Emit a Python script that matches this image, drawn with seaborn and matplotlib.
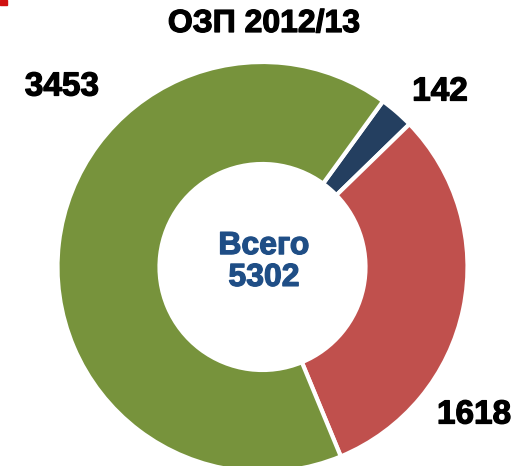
import matplotlib
matplotlib.use("Agg")
import matplotlib.pyplot as plt
import matplotlib.patches as mpatches
import matplotlib.patheffects as pe
import seaborn as sns

# data
categories = ["Группа 1", "Группа 2", "Группа 3"]
values = [142, 1618, 3453]
value_labels = ["142", "1618", "3453"]
colors = ["#243F60", "#C0504D", "#77933C"]
title = "ОЗП 2012/13"
center_text = "Всего\n5302"

sns.set_theme(style="white")
plt.rcParams["font.family"] = ["Liberation Sans", "DejaVu Sans"]

fig = plt.figure(figsize=(5.19, 4.66), dpi=100)
ax = fig.add_axes([0, 0, 1, 1])
ax.axis("off")

wedges, _ = ax.pie(values, colors=colors, startangle=54, counterclock=False,
                   center=(262.5, 199), radius=205,
                   wedgeprops=dict(width=102, edgecolor="white", linewidth=3))
ax.set_xlim(0, 519)
ax.set_ylim(0, 466)
ax.set_aspect("equal")

heavy = [pe.withStroke(linewidth=0.9, foreground="black")]

# value labels placed outside the ring
label_pos = [(440, 374), (474, 51), (62, 379)]
for (x, y), lab in zip(label_pos, value_labels):
    ax.text(x, y, lab, ha="center", va="center", fontsize=24,
            fontweight="bold", color="black", path_effects=heavy)

ax.text(264, 442, title, ha="center", va="center", fontsize=23,
        fontweight="bold", color="black", path_effects=heavy)
ax.text(264, 204, center_text, ha="center", va="center", fontsize=23,
        fontweight="bold", color="#1F4E86", linespacing=1.08,
        path_effects=[pe.withStroke(linewidth=0.9, foreground="#1F4E86")])

# small red mark in the corner
fig.patches.append(mpatches.Rectangle((0, 1 - 5 / 466), 7 / 519, 5 / 466,
                                      transform=fig.transFigure,
                                      color="#D01010"))

fig.savefig("out.png", dpi=100)
